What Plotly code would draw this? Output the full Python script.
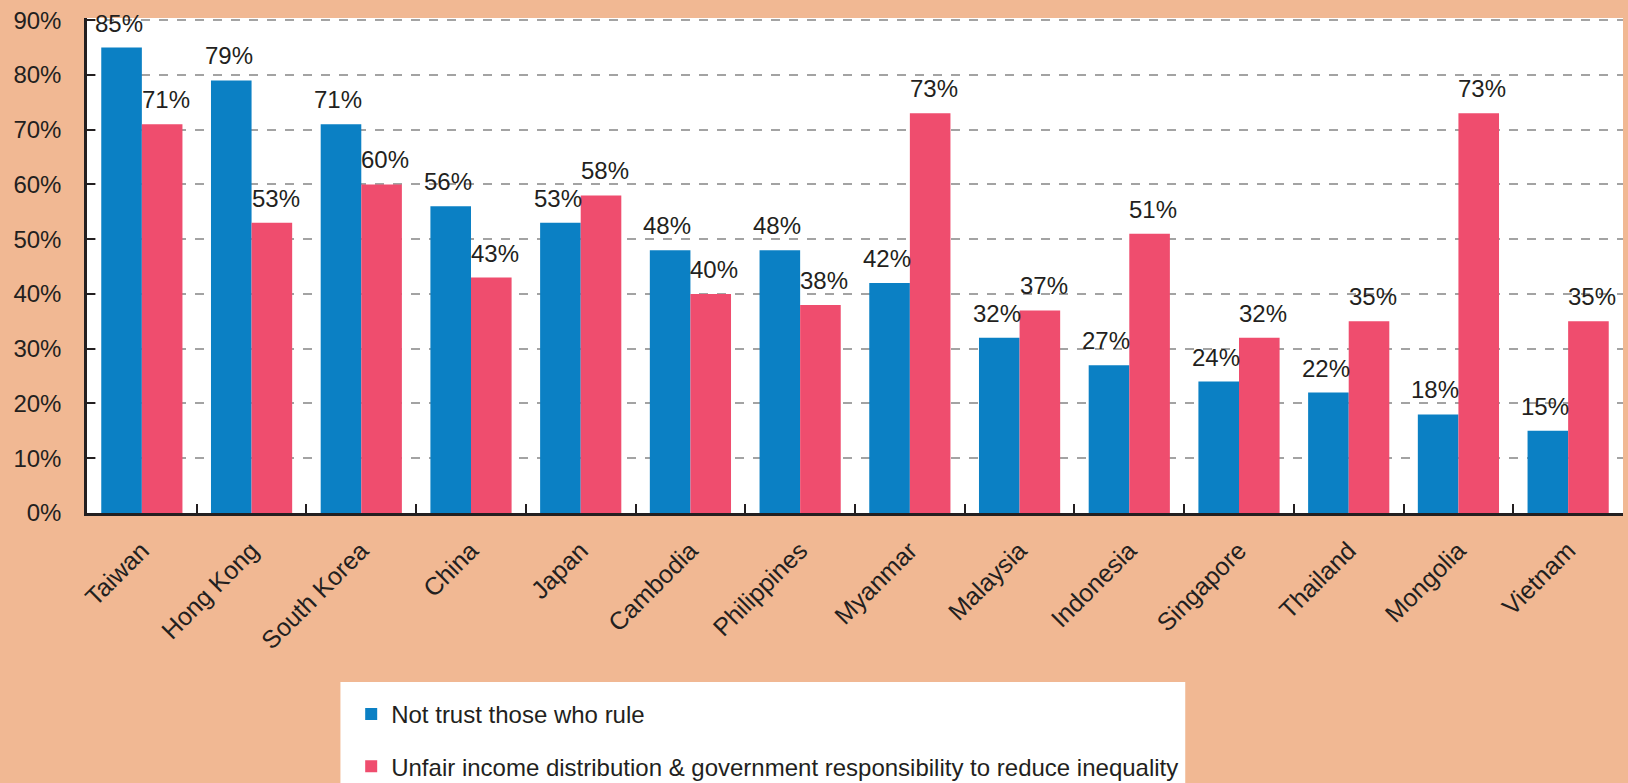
import plotly.graph_objects as go

# Survey results by country (percent of respondents)
countries = ["Taiwan", "Hong Kong", "South Korea", "China", "Japan", "Cambodia",
             "Philippines", "Myanmar", "Malaysia", "Indonesia", "Singapore",
             "Thailand", "Mongolia", "Vietnam"]
not_trust = [85, 79, 71, 56, 53, 48, 48, 42, 32, 27, 24, 22, 18, 15]
unfair_income = [71, 53, 60, 43, 58, 40, 38, 73, 37, 51, 32, 35, 73, 35]

series_names = ["Not trust those who rule",
                "Unfair income distribution & government responsibility to reduce inequality"]
y_ticks = [0, 10, 20, 30, 40, 50, 60, 70, 80, 90]
y_tick_labels = [f"{t}%" for t in y_ticks]

BLUE = "#0b80c4"
PINK = "#ef4d6e"
BG = "#f1b893"
INK = "#231f20"
FONT = "Liberation Sans, Arial, sans-serif"
FS = 24

fig = go.Figure()
fig.add_trace(go.Bar(x=countries, y=not_trust, name=series_names[0],
                     marker=dict(color=BLUE, line=dict(width=0)),
                     legendgroup="a"))
fig.add_trace(go.Bar(x=countries, y=unfair_income, name=series_names[1],
                     marker=dict(color=PINK, line=dict(width=0)),
                     legendgroup="b"))

# Value labels above each bar
annotations = []
for vals, shift in ((not_trust, -23), (unfair_income, 24)):
    for c, v in zip(countries, vals):
        annotations.append(dict(
            x=c, y=v, xref="x", yref="y", text=f"{v}%", showarrow=False,
            xshift=shift, yshift=9, yanchor="bottom", xanchor="center",
            font=dict(family=FONT, size=FS, color=INK)))

fig.update_layout(
    width=1628, height=783,
    paper_bgcolor=BG, plot_bgcolor="white",
    margin=dict(l=87, r=5, t=18, b=270, autoexpand=False),
    barmode="group", bargap=0.26, bargroupgap=0,
    font=dict(family=FONT, size=FS, color=INK),
    annotations=annotations,
    showlegend=True,
    legend=dict(x=0.172, y=-0.3616, xanchor="left", yanchor="top",
                bgcolor="white", borderwidth=0, traceorder="grouped",
                tracegroupgap=18, font=dict(family=FONT, size=FS, color=INK)),
    # white panel behind the legend, running to the bottom edge
    shapes=[dict(type="rect", xref="paper", yref="paper",
                 x0=0.165, x1=0.715, y0=-0.3414, y1=-0.6,
                 fillcolor="white", line=dict(width=0), layer="below")],
)

fig.update_xaxes(
    showline=True, linecolor=INK, linewidth=3,
    ticks="inside", tickson="boundaries", ticklen=9, tickcolor=INK, tickwidth=1.5,
    tickangle=-45, tickfont=dict(family=FONT, size=25, color=INK),
    ticklabelstandoff=10,
    showgrid=False, fixedrange=True,
)
fig.update_yaxes(
    range=[0, 90.4], tickvals=y_ticks, ticktext=y_tick_labels,
    showline=True, linecolor=INK, linewidth=2.5,
    ticks="inside", ticklen=8, tickcolor=INK, tickwidth=1.5,
    showgrid=True, gridcolor="#a3a3a3", gridwidth=1.5, griddash="dash",
    zeroline=False, tickfont=dict(family=FONT, size=FS, color=INK),
    ticklabelstandoff=18,
)

fig.write_html("out.html")
